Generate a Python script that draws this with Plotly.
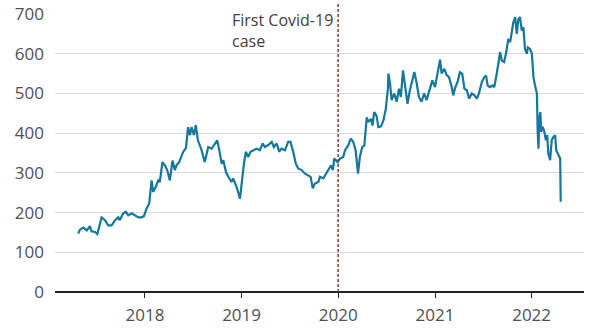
import plotly.graph_objects as go

dates = [
    "2017-04-24", "2017-04-30", "2017-05-13", "2017-05-26", "2017-06-07", "2017-06-13",
    "2017-06-26", "2017-07-05", "2017-07-21", "2017-08-03", "2017-08-15", "2017-08-28",
    "2017-09-10", "2017-09-22", "2017-09-28", "2017-10-11", "2017-10-21", "2017-10-30",
    "2017-11-12", "2017-11-24", "2017-12-07", "2017-12-19", "2017-12-28",
    "2018-01-07", "2018-01-17", "2018-01-26", "2018-02-01", "2018-02-11", "2018-02-20",
    "2018-02-26", "2018-03-08", "2018-03-17", "2018-03-26", "2018-04-05", "2018-04-15",
    "2018-04-24", "2018-04-30", "2018-05-10", "2018-05-19", "2018-05-25", "2018-06-05",
    "2018-06-13", "2018-06-20", "2018-06-26", "2018-07-05", "2018-07-12", "2018-07-20",
    "2018-08-03", "2018-08-15", "2018-08-28", "2018-09-10", "2018-09-22", "2018-10-01",
    "2018-10-11", "2018-10-18", "2018-10-24", "2018-11-03", "2018-11-12", "2018-11-24",
    "2018-11-30", "2018-12-13", "2018-12-26",
    "2019-01-01", "2019-01-10", "2019-01-17", "2019-01-26", "2019-02-04", "2019-02-14",
    "2019-02-27", "2019-03-11", "2019-03-22", "2019-03-30", "2019-04-12", "2019-04-25",
    "2019-05-03", "2019-05-14", "2019-05-23", "2019-06-01", "2019-06-14", "2019-06-26",
    "2019-07-05", "2019-07-15", "2019-07-25", "2019-08-03", "2019-08-16", "2019-08-29",
    "2019-09-10", "2019-09-19", "2019-09-27", "2019-10-05", "2019-10-18", "2019-10-24",
    "2019-11-06", "2019-11-19", "2019-12-01", "2019-12-05", "2019-12-12", "2019-12-17",
    "2019-12-30",
    "2020-01-08", "2020-01-20", "2020-01-27", "2020-02-08", "2020-02-18", "2020-02-27",
    "2020-03-07", "2020-03-16", "2020-03-23", "2020-04-01", "2020-04-09", "2020-04-18",
    "2020-04-24", "2020-05-04", "2020-05-10", "2020-05-16", "2020-05-25", "2020-06-01",
    "2020-06-11", "2020-06-20", "2020-06-29", "2020-07-07", "2020-07-09", "2020-07-15",
    "2020-07-21", "2020-07-31", "2020-08-09", "2020-08-18", "2020-08-25", "2020-09-02",
    "2020-09-11", "2020-09-19", "2020-09-28", "2020-10-07", "2020-10-15", "2020-10-24",
    "2020-11-01", "2020-11-11", "2020-11-21", "2020-11-30", "2020-12-13", "2020-12-22",
    "2021-01-01", "2021-01-07", "2021-01-20", "2021-01-26", "2021-02-05", "2021-02-14",
    "2021-02-23", "2021-03-05", "2021-03-11", "2021-03-17", "2021-03-28", "2021-04-05",
    "2021-04-14", "2021-04-22", "2021-05-01", "2021-05-10", "2021-05-20", "2021-05-30",
    "2021-06-08", "2021-06-16", "2021-06-27", "2021-07-06", "2021-07-13", "2021-07-19",
    "2021-07-28", "2021-08-06", "2021-08-13", "2021-08-22", "2021-08-28", "2021-09-04",
    "2021-09-10", "2021-09-19", "2021-09-26", "2021-10-05", "2021-10-12", "2021-10-18",
    "2021-10-24", "2021-10-31", "2021-11-06", "2021-11-12", "2021-11-18", "2021-11-25",
    "2021-12-01", "2021-12-07", "2021-12-14", "2021-12-18", "2021-12-26",
    "2022-01-02", "2022-01-08", "2022-01-14", "2022-01-21", "2022-01-24", "2022-01-27",
    "2022-01-30", "2022-02-03", "2022-02-06", "2022-02-11", "2022-02-17", "2022-02-24",
    "2022-03-01", "2022-03-05", "2022-03-12", "2022-03-18", "2022-03-24", "2022-03-31",
    "2022-04-04", "2022-04-10", "2022-04-16", "2022-04-19", "2022-04-21",
]

prices = [
    147, 157, 162, 155, 166, 153,
    151, 146, 188, 181, 168, 168,
    181, 188, 181, 198, 202, 193,
    198, 193, 188, 188, 191,
    210, 223, 281, 252, 265, 281,
    277, 327, 319, 307, 281, 331,
    307, 319, 327, 340, 352, 363,
    415, 395, 415, 395, 420, 382,
    357, 327, 365, 361, 374, 382,
    349, 323, 332, 302, 290, 277,
    286, 265, 235,
    273, 323, 353, 340, 353, 357,
    361, 357, 374, 365, 370, 378,
    365, 374, 353, 361, 357, 378,
    378, 353, 323, 311, 307, 298,
    294, 290, 261, 273, 277, 290,
    286, 302, 315, 319, 307, 336,
    327,
    336, 340, 357, 369, 386, 378,
    357, 298, 340, 365, 369, 440,
    428, 436, 419, 453, 444, 415,
    417, 432, 461, 512, 550, 525,
    483, 500, 479, 512, 491, 558,
    516, 474, 508, 529, 554, 525,
    491, 479, 500, 483, 516, 533,
    516, 537, 585, 550, 562, 546,
    541, 516, 495, 512, 531, 553,
    549, 512, 508, 487, 500, 495,
    487, 500, 529, 541, 545, 520,
    516, 520, 516, 549, 570, 604,
    583, 579, 600, 637, 629, 658,
    679, 692, 650, 687, 692, 658,
    667, 612, 600, 616, 612,
    600, 541, 520, 500, 403, 361,
    437, 453, 403, 416, 407, 382,
    395, 349, 332, 382, 390, 395,
    357, 349, 340, 336, 227,
]

x_tick_vals = ["2018-01-01", "2019-01-01", "2020-01-01", "2021-01-01", "2022-01-01"]
x_tick_text = ["2018", "2019", "2020", "2021", "2022"]
y_tick_vals = [0, 100, 200, 300, 400, 500, 600, 700]
covid_date = "2020-01-01"
covid_label = "First Covid-19<br>case"

FONT = "Open Sans"
LINE = "#13789b"
TXT = "#505050"

fig = go.Figure()
fig.add_trace(go.Scatter(
    x=dates, y=prices, mode="lines",
    line=dict(color=LINE, width=2.2),
    hoverinfo="skip", showlegend=False,
))

fig.add_shape(
    type="line", xref="x", yref="paper",
    x0=covid_date, x1=covid_date, y0=0, y1=1.041,
    line=dict(color="#8a4b3d", width=1.6, dash="3px,2px"),
)
fig.add_annotation(
    x=covid_date, xref="x", y=1.024, yref="paper",
    xanchor="right", yanchor="top", xshift=-3,
    text=covid_label, showarrow=False, align="left",
    font=dict(family=FONT, size=16, color="#404040"),
)

fig.update_layout(
    width=600, height=329,
    margin=dict(l=55, r=16, t=14, b=37, autoexpand=False),
    paper_bgcolor="white", plot_bgcolor="white",
    font=dict(family=FONT, size=17, color=TXT),
    xaxis=dict(
        type="date", automargin=False,
        range=["2017-01-26", "2022-07-18"],
        tickvals=x_tick_vals, ticktext=x_tick_text,
        ticks="outside", ticklen=5, tickwidth=1, tickcolor="#222",
        ticklabelstandoff=3,
        showgrid=False, showline=False, zeroline=False,
        tickfont=dict(family=FONT, size=17, color=TXT),
    ),
    yaxis=dict(
        range=[0, 700], automargin=False,
        tickvals=y_tick_vals,
        showgrid=True, gridcolor="#dcdcdc", gridwidth=1,
        zeroline=True, zerolinecolor="#222", zerolinewidth=2,
        showline=False, ticks="",
        ticklabelstandoff=10,
        tickfont=dict(family=FONT, size=17, color=TXT),
    ),
)

fig.write_html("out.html")
